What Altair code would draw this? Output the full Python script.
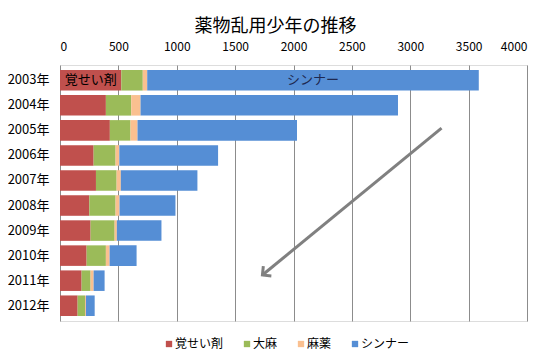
import altair as alt
import pandas as pd

years = ["2003年", "2004年", "2005年", "2006年", "2007年",
         "2008年", "2009年", "2010年", "2011年", "2012年"]
drugs = ["覚せい剤", "大麻", "麻薬", "シンナー"]
kakuseizai = [525, 393, 427, 288, 308, 251, 262, 228, 185, 151]
taima = [184, 217, 177, 188, 177, 225, 206, 165, 77, 63]
mayaku = [38, 80, 60, 32, 36, 34, 19, 32, 26, 8]
shinner = [2840, 2205, 1366, 846, 656, 479, 382, 231, 94, 75]
colors = ["#C0504D", "#9BBB59", "#FAC090", "#558ED5"]
x_ticks = [0, 500, 1000, 1500, 2000, 2500, 3000, 3500, 4000]

# annotation arrow (x in data units, y in row index units)
arrow_x = [3268, 1734]
arrow_row = [1.9, 7.75]

FONT = "Noto Sans CJK JP"

series = [kakuseizai, taima, mayaku, shinner]
rows = []
for i, y in enumerate(years):
    for k, d in enumerate(drugs):
        rows.append({"year": y, "drug": d, "value": series[k][i], "order": k})
df = pd.DataFrame(rows)

# labels inside the 2003 bar segments (覚せい剤 and シンナー)
cum = 0
lab_rows = []
for k, d in enumerate(drugs):
    v = series[k][0]
    if d in ("覚せい剤", "シンナー"):
        lab_rows.append({"year": years[0], "label": d, "mid": cum + v / 2,
                         "col": "#000000" if d == "覚せい剤" else "#1E2850"})
    cum += v
lab_df = pd.DataFrame(lab_rows)

arrow_df = pd.DataFrame({"x1": [arrow_x[0]], "x2": [arrow_x[1]],
                         "r1": [arrow_row[0]], "r2": [arrow_row[1]]})
head_df = pd.DataFrame({"x": [arrow_x[1]], "r": [arrow_row[1]]})

xscale = alt.Scale(domain=[0, 4000], nice=False, zero=True)
yband = alt.Scale(paddingInner=0.18, paddingOuter=0.2)

bars = alt.Chart(df).mark_bar().encode(
    x=alt.X("value:Q", stack="zero", scale=xscale,
            axis=alt.Axis(orient="top", values=x_ticks, title=None, domain=False,
                          ticks=False, grid=True, gridColor="#8C8C8C", gridWidth=1,
                          labelFont=FONT, labelFontSize=12, labelColor="#000000",
                          labelPadding=12, format="d")),
    y=alt.Y("year:N", sort=years, scale=yband,
            axis=alt.Axis(title=None, domain=False, ticks=False, labelFont=FONT,
                          labelFontSize=13, labelColor="#000000", labelPadding=11)),
    color=alt.Color("drug:N", scale=alt.Scale(domain=drugs, range=colors),
                    legend=alt.Legend(title=None, orient="none", direction="horizontal",
                                      legendX=103, legendY=273,
                                      symbolType="square", symbolSize=40,
                                      symbolStrokeWidth=0, labelFont=FONT,
                                      labelFontSize=12, labelColor="#000000",
                                      columnPadding=17, labelOffset=0, padding=0)),
    order=alt.Order("order:Q"),
)

labels = alt.Chart(lab_df).mark_text(font=FONT, fontSize=13, baseline="middle").encode(
    x=alt.X("mid:Q", scale=xscale),
    y=alt.Y("year:N", sort=years, scale=yband),
    text="label:N",
    color=alt.Color("col:N", scale=None),
)

bar_layer = alt.layer(bars, labels)

yq = alt.Scale(domain=[-0.61, 9.58], reverse=True, nice=False, zero=False)
arrow_line = alt.Chart(arrow_df).mark_rule(color="#808080", strokeWidth=3).encode(
    x=alt.X("x1:Q", scale=xscale),
    x2="x2:Q",
    y=alt.Y("r1:Q", scale=yq, axis=None),
    y2="r2:Q",
)
arrow_head = alt.Chart(head_df).mark_point(
    shape="M-1,-1L0,0L-1,1", filled=False, stroke="#808080", strokeWidth=3,
    size=160, angle=140.6, opacity=1,
).encode(
    x=alt.X("x:Q", scale=xscale),
    y=alt.Y("r:Q", scale=yq, axis=None),
)
arrow_layer = alt.layer(arrow_line, arrow_head)

chart = alt.layer(bar_layer, arrow_layer).resolve_scale(
    y="independent", color="independent"
).properties(
    width=467, height=256,
    title=alt.TitleParams("薬物乱用少年の推移", font=FONT, fontSize=18,
                          fontWeight="normal", color="#000000", dx=-18, offset=4),
    autosize=alt.AutoSizeParams(type="none"),
    padding={"left": 52, "top": 57, "right": 16, "bottom": 32},
).configure_view(stroke=None).configure(background="#FFFFFF")

chart.save("out.html", embed_options={"renderer": "svg", "actions": False})
